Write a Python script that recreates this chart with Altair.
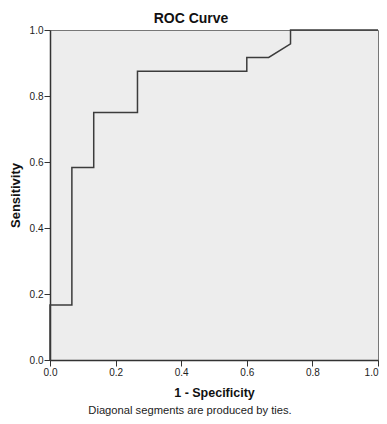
import altair as alt
import pandas as pd

# ROC curve points (1 - Specificity, Sensitivity)
fpr = [0.0, 0.0, 0.0667, 0.0667, 0.1333, 0.1333, 0.2667, 0.2667, 0.6, 0.6, 0.6667, 0.7333, 0.7333, 1.0]
tpr = [0.0, 0.1667, 0.1667, 0.5833, 0.5833, 0.75, 0.75, 0.875, 0.875, 0.9167, 0.9167, 0.9583, 1.0, 1.0]
ticks = [0.0, 0.2, 0.4, 0.6, 0.8, 1.0]
title_text = "ROC Curve"
x_title = "1 - Specificity"
y_title = "Sensitivity"
footnote = "Diagonal segments are produced by ties."

df = pd.DataFrame({"fpr": fpr, "tpr": tpr, "order": list(range(len(fpr)))})

FONT = "Liberation Sans"

line = alt.Chart(df).mark_line(color="#3c3c3c", strokeWidth=1.5).encode(
    x=alt.X("fpr:Q", scale=alt.Scale(domain=[0, 1], nice=False),
            axis=alt.Axis(values=ticks, format=".1f", title=x_title, grid=False,
                          tickSize=6, tickColor="#333", domainColor="#333", domainWidth=1.5,
                          labelFontSize=10, labelColor="#222", labelPadding=1,
                          labelAlign={"expr": "datum.value >= 1 ? 'right' : 'center'"},
                          titleFontSize=12.5, titleFontWeight="bold", titleColor="#111",
                          titlePadding=9, labelFont=FONT, titleFont=FONT)),
    y=alt.Y("tpr:Q", scale=alt.Scale(domain=[0, 1], nice=False),
            axis=alt.Axis(values=ticks, format=".1f", title=y_title, grid=False,
                          tickSize=6, tickColor="#333", domainColor="#333", domainWidth=1.5,
                          labelFontSize=10, labelColor="#222", labelPadding=1,
                          titleFontSize=13, titleFontWeight="bold", titleColor="#111",
                          titlePadding=7, labelFont=FONT, titleFont=FONT)),
    order="order:Q",
)

title_mark = alt.Chart(pd.DataFrame({"t": [title_text]})).mark_text(
    font=FONT, fontSize=14, fontWeight="bold", color="#111", baseline="middle", align="center"
).encode(text="t:N", x=alt.value(141), y=alt.value(-11))

foot_mark = alt.Chart(pd.DataFrame({"t": [footnote]})).mark_text(
    font=FONT, fontSize=11.2, color="#222", baseline="middle", align="center"
).encode(text="t:N", x=alt.value(140), y=alt.value(381))

chart = alt.layer(line, title_mark, foot_mark).properties(
    width=328, height=330,
    autosize=alt.AutoSizeParams(type="none"),
    padding={"left": 42, "top": 22, "right": 1, "bottom": 56},
).configure(
    background="white",
    view=alt.ViewConfig(fill="#ededed", stroke="#777", strokeWidth=1),
)

chart.save("out.html", embed_options={"renderer": "svg", "actions": False})
